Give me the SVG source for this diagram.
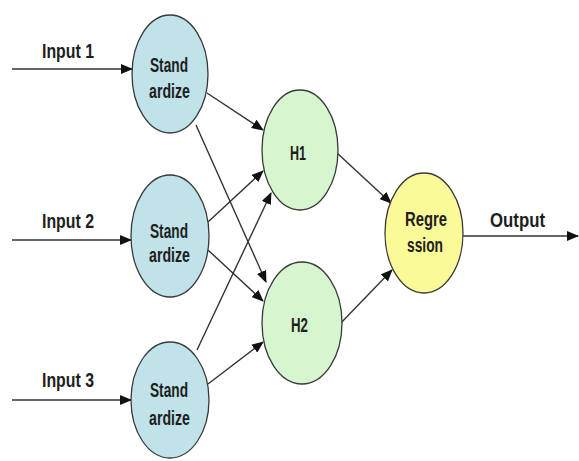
<svg xmlns="http://www.w3.org/2000/svg" width="579" height="461" viewBox="0 0 579 461">
<defs>
<marker id="ah" markerWidth="12" markerHeight="10" refX="11" refY="5" orient="auto" markerUnits="userSpaceOnUse">
<path d="M0,0 L12,5 L0,10 Z" fill="#111"/>
</marker>
<style>
.n ellipse{stroke:#3a3a3a;stroke-width:1.3}
.s ellipse{fill:#bfe3e8}
.h ellipse{fill:#d6f6cf}
.r ellipse{fill:#fbfa98}
text{font-family:"Liberation Sans",Arial,sans-serif;font-weight:bold;fill:#1e1e1e}
.lab{font-size:20px}
.in{font-size:20px}
#edges line{stroke:#333;stroke-width:1.4;marker-end:url(#ah)}
</style>
</defs>
<rect width="579" height="461" fill="#fff"/>
<g id="edges">
<line x1="12" y1="69" x2="132" y2="69"/>
<line x1="12" y1="240" x2="131" y2="240"/>
<line x1="12" y1="400" x2="131" y2="400"/>
<line x1="207" y1="93" x2="263" y2="130"/>
<line x1="196" y1="125" x2="266" y2="282"/>
<line x1="208" y1="222" x2="263" y2="171"/>
<line x1="208" y1="250" x2="263" y2="301"/>
<line x1="197" y1="350" x2="271" y2="193"/>
<line x1="208" y1="384" x2="263" y2="342"/>
<line x1="337" y1="153" x2="391" y2="203"/>
<line x1="338" y1="326" x2="392" y2="270"/>
<line x1="463" y1="236" x2="578" y2="236"/>
</g>
<g id="in1"><text class="in" x="42" y="58" textLength="52" lengthAdjust="spacingAndGlyphs">Input 1</text></g>
<g id="in2"><text class="in" x="42" y="228" textLength="52" lengthAdjust="spacingAndGlyphs">Input 2</text></g>
<g id="in3"><text class="in" x="42" y="387" textLength="52" lengthAdjust="spacingAndGlyphs">Input 3</text></g>
<g id="out"><text class="in" x="490" y="227" textLength="55" lengthAdjust="spacingAndGlyphs">Output</text></g>
<g id="s1" class="n s">
<ellipse cx="170" cy="74" rx="38" ry="59"/>
<text class="lab" x="150" y="72" textLength="38" lengthAdjust="spacingAndGlyphs">Stand</text>
<text class="lab" x="149" y="98" textLength="41" lengthAdjust="spacingAndGlyphs">ardize</text>
</g>
<g id="s2" class="n s">
<ellipse cx="170" cy="236" rx="39" ry="61"/>
<text class="lab" x="150" y="238" textLength="38" lengthAdjust="spacingAndGlyphs">Stand</text>
<text class="lab" x="149" y="262" textLength="41" lengthAdjust="spacingAndGlyphs">ardize</text>
</g>
<g id="s3" class="n s">
<ellipse cx="170" cy="400" rx="39" ry="58"/>
<text class="lab" x="150" y="397" textLength="38" lengthAdjust="spacingAndGlyphs">Stand</text>
<text class="lab" x="149" y="425" textLength="41" lengthAdjust="spacingAndGlyphs">ardize</text>
</g>
<g id="h1" class="n h">
<ellipse cx="300" cy="150" rx="38" ry="60"/>
<text class="lab" x="290" y="160" textLength="16" lengthAdjust="spacingAndGlyphs">H1</text>
</g>
<g id="h2" class="n h">
<ellipse cx="302" cy="323" rx="40" ry="61"/>
<text class="lab" x="291" y="332" textLength="17" lengthAdjust="spacingAndGlyphs">H2</text>
</g>
<g id="reg" class="n r">
<ellipse cx="424" cy="233" rx="39" ry="60"/>
<text class="lab" x="405" y="226" textLength="42" lengthAdjust="spacingAndGlyphs">Regre</text>
<text class="lab" x="407" y="252" textLength="36" lengthAdjust="spacingAndGlyphs">ssion</text>
</g>
</svg>
